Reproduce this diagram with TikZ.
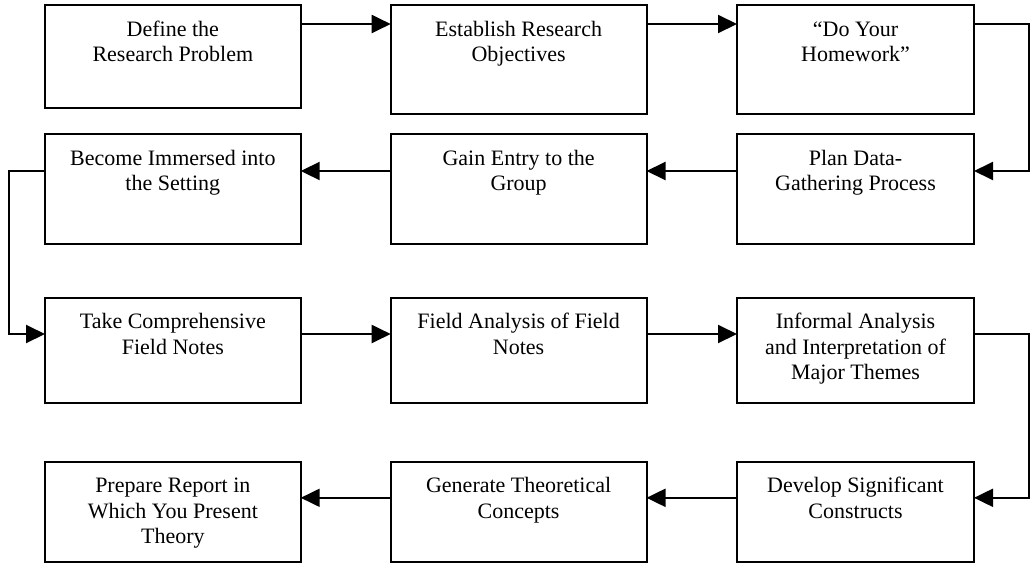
\documentclass[tikz,border=0pt]{standalone}
\usepackage{fontspec}
\setmainfont{Liberation Serif}
\usetikzlibrary{arrows.meta,calc}

\begin{document}
\begin{tikzpicture}[x=1pt,y=-1pt,
  box/.style={draw, line width=2pt, rectangle, anchor=north west, inner sep=0pt, outer sep=0pt},
  txt/.style={anchor=north, align=center, inner sep=0pt,
    font=\fontsize{22}{25.3}\selectfont},
  conn/.style={line width=2pt, -{Triangle[length=19pt,width=18pt]}},
  plain/.style={line width=2pt}]

\useasboundingbox (0,0) rectangle (1032,563);

% row 1
\node[box, minimum width=255.7pt, minimum height=103pt]   (b1)  at (45,5.3)    {};
\node[box, minimum width=255.8pt, minimum height=108.7pt] (b2)  at (390.7,5.3) {};
\node[box, minimum width=237pt,   minimum height=108.7pt] (b3)  at (737,5.3)   {};
% row 2
\node[box, minimum width=237pt,   minimum height=110pt]   (b4)  at (737,134)   {};
\node[box, minimum width=255.8pt, minimum height=110pt]   (b5)  at (390.7,134) {};
\node[box, minimum width=255.7pt, minimum height=110pt]   (b6)  at (45,134)    {};
% row 3
\node[box, minimum width=255.7pt, minimum height=105.3pt] (b7)  at (45,297.7)  {};
\node[box, minimum width=255.8pt, minimum height=105.3pt] (b8)  at (390.7,297.7) {};
\node[box, minimum width=237pt,   minimum height=105.3pt] (b9)  at (737,297.7) {};
% row 4
\node[box, minimum width=237pt,   minimum height=100.8pt] (b10) at (737,461.5) {};
\node[box, minimum width=255.8pt, minimum height=100.8pt] (b11) at (390.7,461.5) {};
\node[box, minimum width=255.7pt, minimum height=100.8pt] (b12) at (45,461.5) {};

% labels, hung from the top edge of each box
\node[txt] (t1)  at ($(b1.north)+(0,13.3)$)  {\strut Define the\\Research Problem};
\node[txt] (t2)  at ($(b2.north)+(0,13.3)$)  {\strut Establish Research\\Objectives};
\node[txt] (t3)  at ($(b3.north)+(0,13.3)$)  {\strut “Do Your\\Homework”};
\node[txt] (t4)  at ($(b4.north)+(0,13.3)$)  {\strut Plan Data-\\Gathering Process};
\node[txt] (t5)  at ($(b5.north)+(0,13.3)$)  {\strut Gain Entry to the\\Group};
\node[txt] (t6)  at ($(b6.north)+(0,13.3)$)  {\strut Become Immersed into\\the  Setting};
\node[txt] (t7)  at ($(b7.north)+(0,13.3)$)  {\strut Take Comprehensive\\Field Notes};
\node[txt] (t8)  at ($(b8.north)+(0,13.3)$)  {\strut Field Analysis of Field\\Notes};
\node[txt] (t9)  at ($(b9.north)+(0,13.3)$)  {\strut Informal Analysis\\and Interpretation of\\Major Themes};
\node[txt] (t10) at ($(b10.north)+(0,13.3)$) {\strut Develop Significant\\Constructs};
\node[txt] (t11) at ($(b11.north)+(0,13.3)$) {\strut Generate Theoretical\\Concepts};
\node[txt] (t12) at ($(b12.north)+(0,13.3)$) {\strut Prepare Report in\\Which You Present\\Theory};

% row 1 connectors
\draw[conn] ($(b1.north east)+(0,18.7)$) -- ($(b2.north west)+(0,18.7)$);
\draw[conn] ($(b2.north east)+(0,18.7)$) -- ($(b3.north west)+(0,18.7)$);
% down the right side into row 2
\draw[conn] ($(b3.north east)+(0,18.7)$) -- ++(55,0) |- ($(b4.north east)+(0,37)$);
% row 2 connectors
\draw[conn] ($(b4.north west)+(0,37)$) -- ($(b5.north east)+(0,37)$);
\draw[conn] ($(b5.north west)+(0,37)$) -- ($(b6.north east)+(0,37)$);
% down the left side into row 3
\draw[conn] ($(b6.north west)+(0,37)$) -- ++(-36,0) |- ($(b7.north west)+(0,36.3)$);
% row 3 connectors
\draw[conn] ($(b7.north east)+(0,36.3)$) -- ($(b8.north west)+(0,36.3)$);
\draw[conn] ($(b8.north east)+(0,36.3)$) -- ($(b9.north west)+(0,36.3)$);
% down the right side into row 4
\draw[conn] ($(b9.north east)+(0,36.3)$) -- ++(55,0) |- ($(b10.north east)+(0,36.3)$);
% row 4 connectors
\draw[conn] ($(b10.north west)+(0,36.3)$) -- ($(b11.north east)+(0,36.3)$);
\draw[conn] ($(b11.north west)+(0,36.3)$) -- ($(b12.north east)+(0,36.3)$);
\end{tikzpicture}
\end{document}
